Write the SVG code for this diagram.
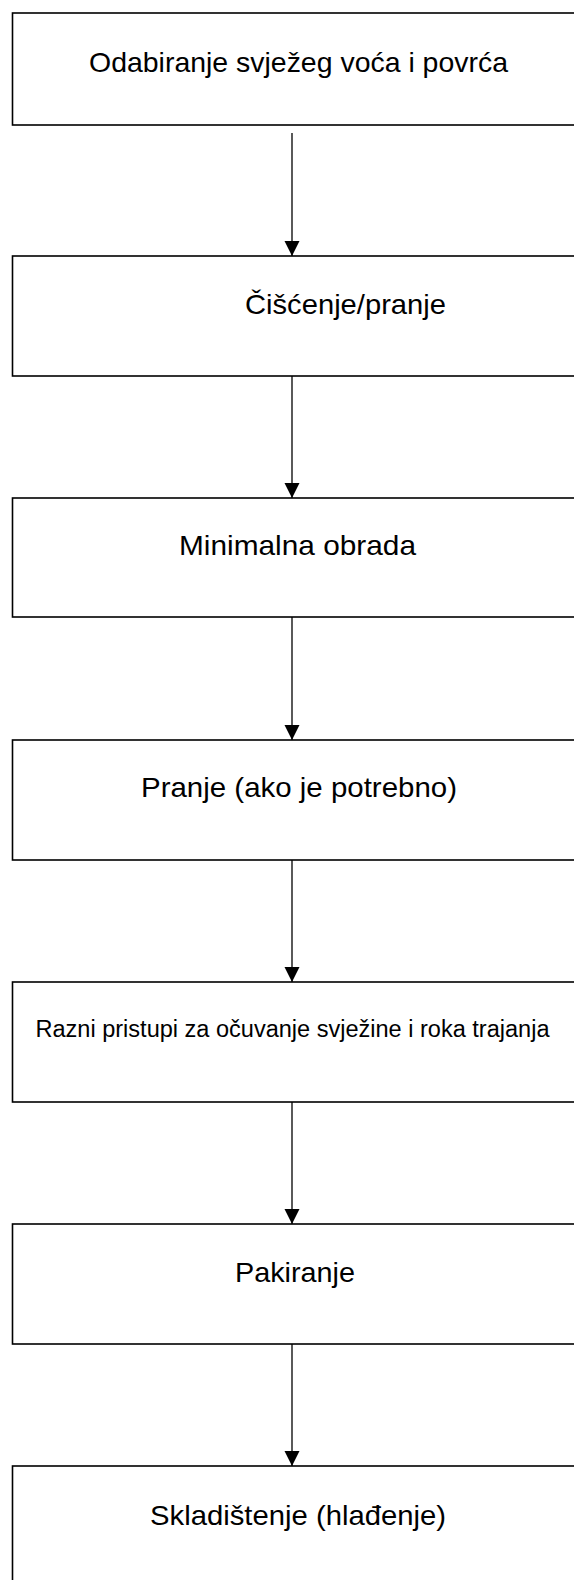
<svg xmlns="http://www.w3.org/2000/svg" width="574" height="1580" viewBox="0 0 574 1580">
  <defs>
    <marker id="arrow" markerUnits="userSpaceOnUse" markerWidth="16" markerHeight="16" refX="15" refY="7.5" orient="auto">
      <path d="M0,0 L15,7.5 L0,15 Z" fill="#000"/>
    </marker>
    <style>
      .box { fill: #fff; stroke: #000; stroke-width: 1.6; }
      .lbl { font-family: "Liberation Sans", Arial, sans-serif; font-size: 28px; fill: #000; }
      .sm { font-size: 23px; }
      .conn { stroke: #000; stroke-width: 1.3; fill: none; marker-end: url(#arrow); }
    </style>
  </defs>
  <rect width="574" height="1580" fill="#fff"/>
  <g id="node1">
    <rect class="box" x="12.5" y="13" width="590" height="112"/>
    <text class="lbl" x="89" y="72" textLength="419" lengthAdjust="spacingAndGlyphs">Odabiranje svježeg voća i povrća</text>
  </g>
  <g id="node2">
    <rect class="box" x="12.5" y="256" width="590" height="120"/>
    <text class="lbl" x="245" y="314" textLength="201" lengthAdjust="spacingAndGlyphs">Čišćenje/pranje</text>
  </g>
  <g id="node3">
    <rect class="box" x="12.5" y="498" width="590" height="119"/>
    <text class="lbl" x="179" y="555" textLength="237" lengthAdjust="spacingAndGlyphs">Minimalna obrada</text>
  </g>
  <g id="node4">
    <rect class="box" x="12.5" y="740" width="590" height="120"/>
    <text class="lbl" x="141" y="797" textLength="316" lengthAdjust="spacingAndGlyphs">Pranje (ako je potrebno)</text>
  </g>
  <g id="node5">
    <rect class="box" x="12.5" y="982" width="590" height="120"/>
    <text class="lbl sm" x="35.5" y="1037" textLength="514" lengthAdjust="spacingAndGlyphs">Razni pristupi za očuvanje svježine i roka trajanja</text>
  </g>
  <g id="node6">
    <rect class="box" x="12.5" y="1224" width="590" height="120"/>
    <text class="lbl" x="235" y="1282" textLength="120" lengthAdjust="spacingAndGlyphs">Pakiranje</text>
  </g>
  <g id="node7">
    <rect class="box" x="12.5" y="1466" width="590" height="140"/>
    <text class="lbl" x="150" y="1525" textLength="296" lengthAdjust="spacingAndGlyphs">Skladištenje (hlađenje)</text>
  </g>
  <g id="connectors">
    <line class="conn" x1="292" y1="133" x2="292" y2="256"/>
    <line class="conn" x1="292" y1="376" x2="292" y2="498"/>
    <line class="conn" x1="292" y1="617" x2="292" y2="740"/>
    <line class="conn" x1="292" y1="860" x2="292" y2="982"/>
    <line class="conn" x1="292" y1="1102" x2="292" y2="1224"/>
    <line class="conn" x1="292" y1="1344" x2="292" y2="1466"/>
  </g>
</svg>
